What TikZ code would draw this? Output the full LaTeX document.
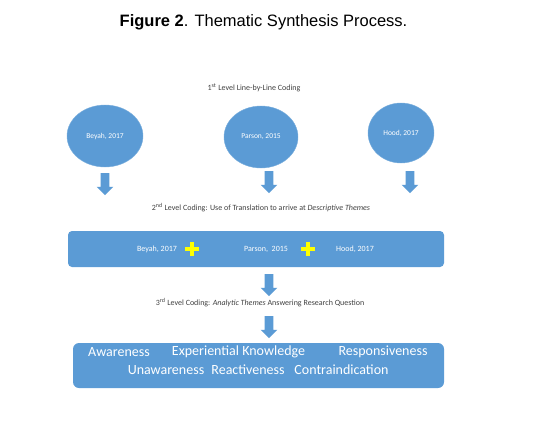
\documentclass[tikz,border=0pt]{standalone}
\usepackage{fontspec}
\setmainfont{Carlito}
\newfontfamily\titlefont{Liberation Sans}
\usepackage{xcolor}
\definecolor{officeblue}{HTML}{5B9BD5}
\definecolor{plusyellow}{HTML}{FFFF00}
\usepackage{tikz}
\usetikzlibrary{shapes,arrows,calc,positioning}

\newcommand{\yellowplus}[1]{%
  \fill[plusyellow] ($(#1)+(-7,-2.3)$) rectangle ($(#1)+(7,2.3)$);
  \fill[plusyellow] ($(#1)+(-2.3,-7)$) rectangle ($(#1)+(2.3,7)$);}

\begin{document}
\begin{tikzpicture}[x=1pt, y=-1pt,
  studyellipse/.style={ellipse, fill=officeblue, draw=officeblue!80, text=white, font=\fontsize{7.5}{9}\selectfont, inner sep=0pt},
  levellabel/.style={font=\fontsize{8}{9}\selectfont, text=black!75},
  downarrow/.style={single arrow, fill=officeblue, draw=none, shape border rotate=270, minimum height=22pt, single arrow head extend=4pt, inner sep=4.2pt, single arrow tip angle=90},
  boxtext/.style={text=white, font=\fontsize{8}{9}\selectfont, inner sep=0pt},
  themetext/.style={text=white, font=\fontsize{14}{16}\selectfont, inner sep=0pt}
]
\useasboundingbox (0,0) rectangle (535,429);

% Title
\node[font=\titlefont\fontsize{16.5}{18}\selectfont] (title) at (263.5,22) {\textbf{Figure 2}. Thematic Synthesis Process.};

% 1st level
\node[levellabel] (level1) at (254,88) {1\textsuperscript{st} Level Line-by-Line Coding};
\node[studyellipse, minimum width=76pt, minimum height=62pt] (beyah) at (105,136) {Beyah, 2017};
\node[studyellipse, minimum width=74pt, minimum height=62pt] (parson) at (261,137) {Parson, 2015};
\node[studyellipse, minimum width=66pt, minimum height=60pt] (hood) at (401,133) {Hood, 2017};

\node[downarrow] (arrowA) at (105,182) {};
\node[downarrow] (arrowB) at (269,180) {};
\node[downarrow] (arrowC) at (410,180) {};

% 2nd level
\node[levellabel] (level2) at (261,208) {2\textsuperscript{nd} Level Coding: Use of Translation to arrive at \textit{Descriptive Themes}};
\node[rectangle, fill=officeblue, rounded corners=4pt, minimum width=376pt, minimum height=36pt] (descbox) at (256,249) {};
\node[boxtext] (descA) at (157,249) {Beyah, 2017};
\node[boxtext] (descB) at (266,249) {Parson,\ \ 2015};
\node[boxtext] (descC) at (355,249) {Hood, 2017};
\coordinate (plusA) at (192,249);
\coordinate (plusB) at (308,249);
\yellowplus{plusA}
\yellowplus{plusB}

\node[downarrow] (arrowD) at (269,283) {};

% 3rd level
\node[levellabel] (level3) at (260,303) {3\textsuperscript{rd} Level Coding: \textit{Analytic Themes} Answering Research Question};
\node[downarrow] (arrowE) at (269,325) {};
\node[rectangle, fill=officeblue, rounded corners=6pt, minimum width=371pt, minimum height=45pt] (themebox) at (258.5,365.5) {};
\node[themetext] (awareness) at (119,352) {Awareness};
\node[themetext] (experiential) at (238.5,352) {Experiential Knowledge};
\node[themetext] (responsive) at (383,352) {Responsiveness};
\node[themetext] (unawareness) at (166,370) {Unawareness};
\node[themetext] (reactive) at (248,370) {Reactiveness};
\node[themetext] (contra) at (341.5,370) {Contraindication};

\end{tikzpicture}
\end{document}
